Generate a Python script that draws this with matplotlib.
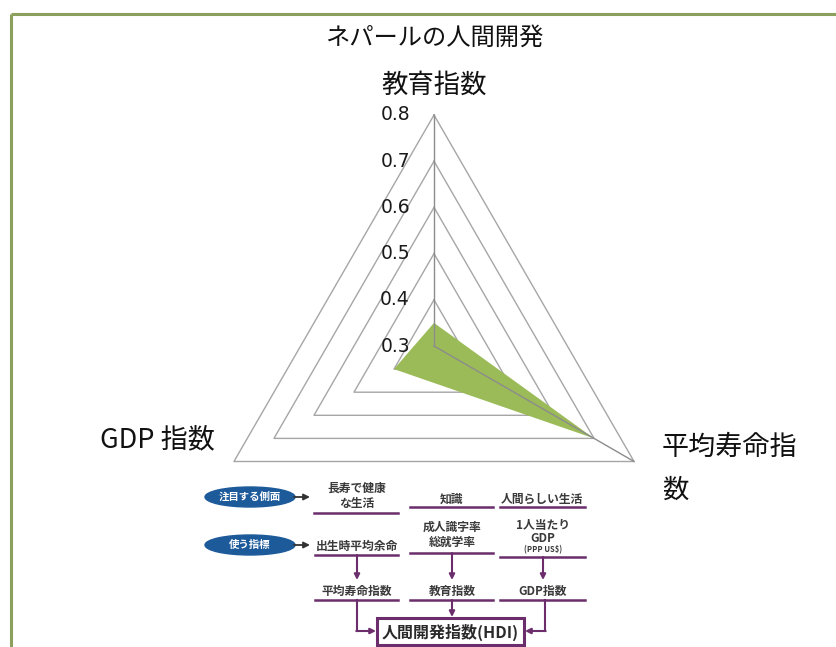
import numpy as np
import matplotlib
matplotlib.use("Agg")
import matplotlib.pyplot as plt
from matplotlib.patches import Ellipse, Rectangle

plt.rcParams["font.family"] = ["Noto Sans CJK JP", "DejaVu Sans"]

# === DATA ===
TITLE = "ネパールの人間開発"
CATEGORIES = ["教育指数", "平均寿命指数", "GDP 指数"]
VALUES = [0.35, 0.70, 0.40]
TICKS = [0.3, 0.4, 0.5, 0.6, 0.7, 0.8]
R_MIN, R_MAX = 0.3, 0.8

# clockwise from the top, as in a spreadsheet radar chart
ANGLES = np.deg2rad([90, -30, 210])

GREEN = "#9BBB59"
GRID = "#A6A6A6"
PURPLE = "#6B2D6B"
BLUE = "#1D5A9A"
DARK = "#3A3A3A"

W, H = 836, 647
fig = plt.figure(figsize=(W / 100, H / 100), dpi=100)

# ------------------------------
# overlay axes in pixel units (frame, titles, diagram)
# ------------------------------
ov = fig.add_axes([0, 0, 1, 1])
ov.set_xlim(0, W)
ov.set_ylim(H, 0)
ov.axis("off")

# frame of the chart area
ov.plot([10.5, 10.5], [H, 13.5], color="#8AA05C", lw=2.2, solid_capstyle="butt")
ov.plot([10.5, W], [13.5, 13.5], color="#8AA05C", lw=2.2, solid_capstyle="butt")

ov.text(434, 38, TITLE, ha="center", va="center", fontsize=17.5, color="#111111")

# ------------------------------
# radar chart
# ------------------------------
CX, CY = 434, 346          # centre in pixels
SCALE = 462                # pixels per value unit
EXT = 0.56
ax = fig.add_axes([(CX - EXT * SCALE) / W, (H - CY - EXT * SCALE) / H,
                   2 * EXT * SCALE / W, 2 * EXT * SCALE / H])
ax.set_xlim(-EXT, EXT)
ax.set_ylim(-EXT, EXT)
ax.axis("off")


def to_xy(vals):
    r = np.asarray(vals) - R_MIN
    return r * np.cos(ANGLES), r * np.sin(ANGLES)


# ring gridlines
for t in TICKS[1:]:
    gx, gy = to_xy([t] * 3)
    ax.plot(np.append(gx, gx[0]), np.append(gy, gy[0]), color=GRID, lw=1.0, zorder=1)

# data polygon
dx, dy = to_xy(VALUES)
ax.fill(dx, dy, color=GREEN, lw=0, zorder=2)

# spokes (education and life expectancy)
sx, sy = to_xy([R_MAX] * 3)
for i in [0, 1]:
    ax.plot([0, sx[i]], [0, sy[i]], color="#8C8C8C", lw=1.0, zorder=3)

# value labels along the top spoke
for t in TICKS:
    ax.text(-0.052, t - R_MIN, f"{t:.1f}", ha="right", va="center",
            fontsize=13.5, family="DejaVu Sans", color="#1A1A1A", zorder=4)

# category labels
ov.text(434, 85, CATEGORIES[0], ha="center", va="center", fontsize=19, color="#111111")
ov.text(100, 440, CATEGORIES[2], ha="left", va="center", fontsize=19.5, color="#111111")
ov.text(662, 447, "平均寿命指", ha="left", va="center", fontsize=19.5, color="#111111")
ov.text(662, 490, "数", ha="left", va="center", fontsize=19, color="#111111")

# ------------------------------
# HDI structure diagram
# ------------------------------
for cy, label in [(497, "注目する側面"), (545, "使う指標")]:
    ov.add_patch(Ellipse((250, cy), 90, 20, color=BLUE, zorder=2))
    ov.text(250, cy, label, ha="center", va="center", fontsize=7.5,
            fontweight="bold", color="white", zorder=3)
    ov.annotate("", xy=(310, cy), xytext=(294, cy),
                arrowprops=dict(arrowstyle="-|>", color="#333333", lw=1.3,
                                mutation_scale=9, shrinkA=0, shrinkB=0))

txt = dict(ha="center", va="center", fontsize=8.5, color=DARK, fontweight="bold")
cols = [(315, 398, 357), (410, 493, 452), (500, 585, 543)]

# aspects row
ov.text(357, 496, "長寿で健康\nな生活", linespacing=1.25, **txt)
ov.text(452, 499, "知識", **txt)
ov.text(542, 499, "人間らしい生活", **txt)
ov.plot([314, 398], [513, 513], color=PURPLE, lw=1.8)
ov.plot([410, 493], [507, 507], color=PURPLE, lw=1.8)
ov.plot([500, 585], [507, 507], color=PURPLE, lw=1.8)

# indicators row
ov.text(357, 546, "出生時平均余命", **txt)
ov.text(452, 535, "成人識字率\n総就学率", linespacing=1.25, **txt)
ov.text(543, 526, "1人当たり", **txt)
ov.text(543, 539, "GDP", **txt)
ov.text(543, 550, "(PPP US$)", ha="center", va="center", fontsize=5.5, color=DARK,
        fontweight="bold")
for (x0, x1, xc), y in zip(cols, [555, 553, 557]):
    ov.plot([x0, x1], [y, y], color=PURPLE, lw=1.8)
    ov.annotate("", xy=(xc, 580), xytext=(xc, y),
                arrowprops=dict(arrowstyle="-|>", color=PURPLE, lw=1.5,
                                mutation_scale=8, shrinkA=0, shrinkB=0))

# index row
for (x0, x1, xc), label in zip(cols, ["平均寿命指数", "教育指数", "GDP指数"]):
    ov.text(xc, 591, label, **txt)
    ov.plot([x0, x1], [600, 600], color=PURPLE, lw=1.8)

# arrows into the HDI box
ov.plot([357, 357], [600, 631], color=PURPLE, lw=1.5)
ov.annotate("", xy=(376, 631), xytext=(356.3, 631),
            arrowprops=dict(arrowstyle="-|>", color=PURPLE, lw=1.5,
                            mutation_scale=8, shrinkA=0, shrinkB=0))
ov.annotate("", xy=(452, 617), xytext=(452, 600),
            arrowprops=dict(arrowstyle="-|>", color=PURPLE, lw=1.5,
                            mutation_scale=8, shrinkA=0, shrinkB=0))
ov.plot([545, 545], [600, 631], color=PURPLE, lw=1.5)
ov.annotate("", xy=(525, 631), xytext=(545.7, 631),
            arrowprops=dict(arrowstyle="-|>", color=PURPLE, lw=1.5,
                            mutation_scale=8, shrinkA=0, shrinkB=0))

ov.add_patch(Rectangle((377, 618), 147, 27, fill=False, edgecolor=PURPLE, lw=2.2))
ov.text(450, 632, "人間開発指数(HDI)", ha="center", va="center", fontsize=11.5,
        fontweight="bold", color="#2A2A2A")

fig.savefig("out.png", dpi=100, facecolor="white")
